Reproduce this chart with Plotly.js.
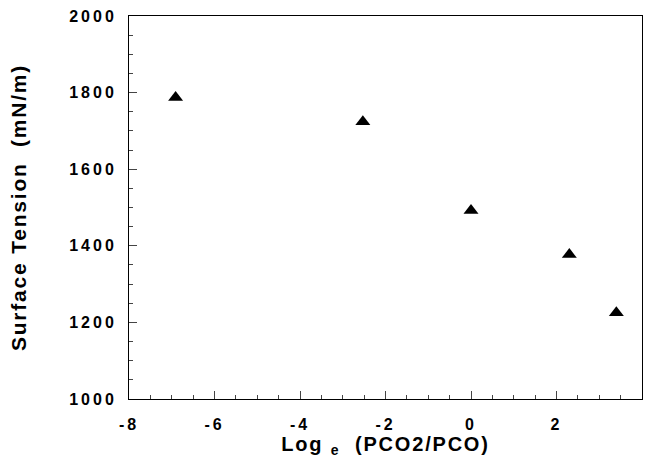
<!DOCTYPE html>
<html><head><meta charset="utf-8">
<script src="https://cdn.plot.ly/plotly-3.0.1.min.js"></script>
<style>
body{margin:0;background:#fff}
.xtick text, .ytick text {letter-spacing: 3px;}
.g-xtitle text, .g-ytitle text {letter-spacing: 1.8px;}
</style>
</head><body>
<div id="chart" style="width:645px;height:469px"></div>
<script>
const logRatio = [-6.91, -2.53, 0.0, 2.30, 3.40];
const surfaceTension = [1787, 1724, 1492, 1377, 1225];
const xTickVals = [-8, -6, -4, -2, 0, 2, 4];
const xTickText = ["-8", "-6", "-4", "-2", "0", "2", "4"];
const xTitle = "\u00a0\u00a0\u00a0\u00a0Log\u00a0<sub>e</sub>\u00a0\u00a0(PCO2/PCO)";
const yTitle = "Surface Tension  (mN/m)";

const fam = "Liberation Sans, Arial, Helvetica, sans-serif";
Plotly.newPlot("chart", [{
  x: logRatio, y: surfaceTension, type: "scatter", mode: "markers",
  marker: {symbol: "triangle-up", size: 13, color: "#000"}
}], {
  width: 645, height: 469,
  margin: {l: 129, r: 3, t: 16, b: 70},
  paper_bgcolor: "#fff", plot_bgcolor: "#fff",
  showlegend: false,
  font: {family: fam, color: "#000"},
  xaxis: {
    range: [-8, 4], tickmode: "array", tickvals: xTickVals, ticktext: xTickText,
    ticks: "inside", ticklen: 8, tickwidth: 1, ticklabelstandoff: 11,
    minor: {dtick: 0.5, ticks: "inside", ticklen: 4},
    showline: true, mirror: true, linecolor: "#000", linewidth: 1,
    showgrid: false, zeroline: false,
    tickfont: {family: fam, size: 16, color: "#000", weight: "bold"},
    title: {text: xTitle, standoff: 2, font: {family: fam, size: 20, color: "#000", weight: "bold"}}
  },
  yaxis: {
    range: [1000, 2000], dtick: 200, ticks: "inside", ticklen: 8, tickwidth: 1, ticklabelstandoff: 8,
    minor: {dtick: 50, ticks: "inside", ticklen: 4},
    showline: true, mirror: true, linecolor: "#000", linewidth: 1,
    showgrid: false, zeroline: false,
    tickfont: {family: fam, size: 16, color: "#000", weight: "bold"},
    title: {text: yTitle, standoff: 36, font: {family: fam, size: 21, color: "#000", weight: "bold"}}
  }
}, {displayModeBar: false, staticPlot: true});
</script>
</body></html>
